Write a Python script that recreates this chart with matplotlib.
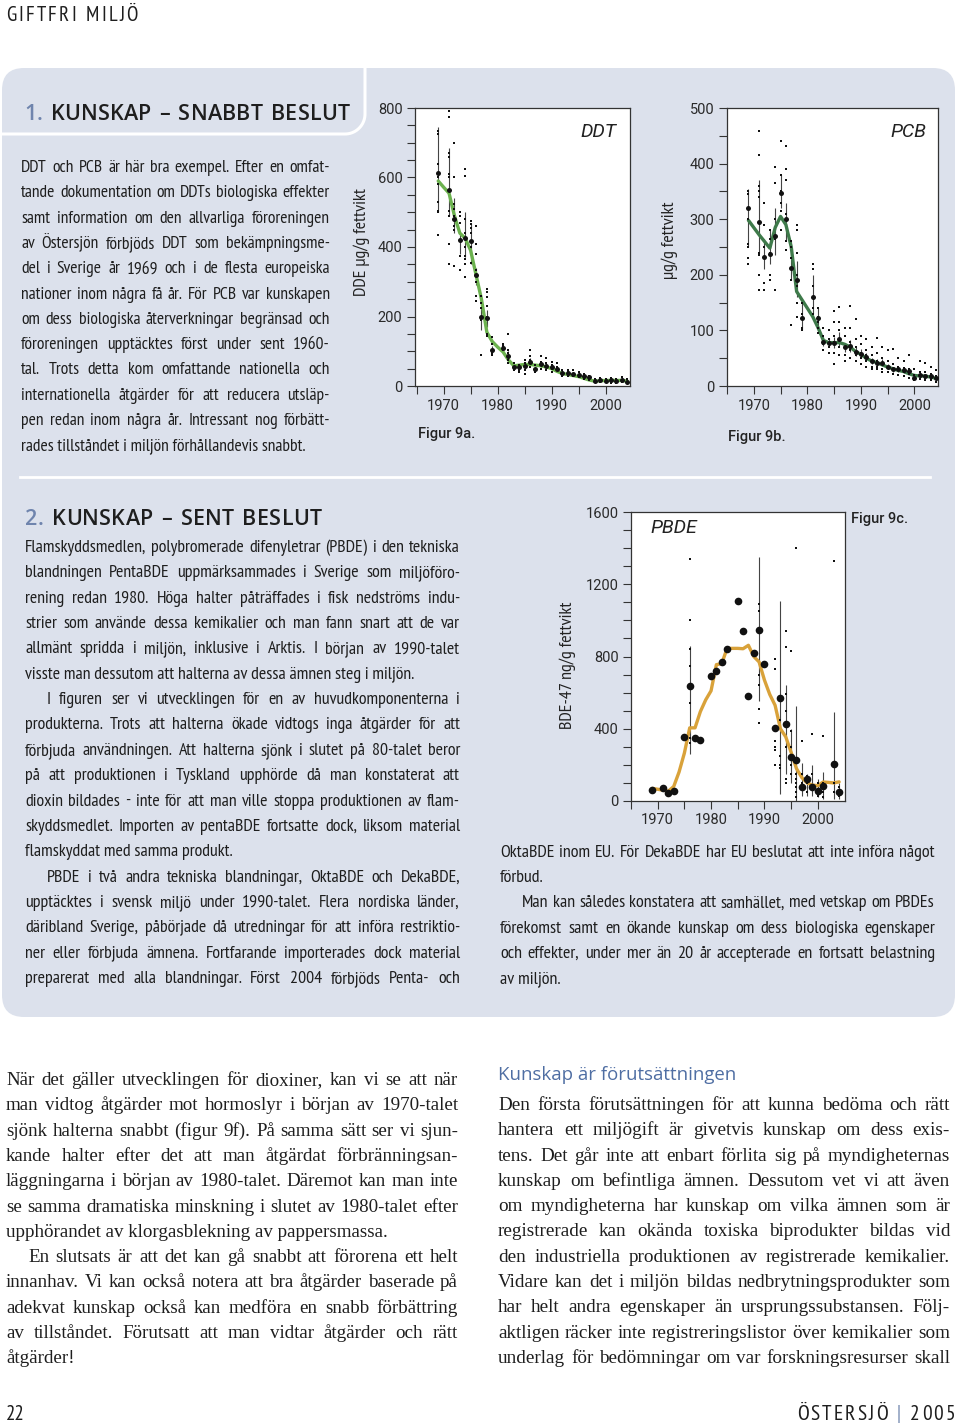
import numpy as np
import matplotlib.pyplot as plt
from matplotlib import font_manager
from matplotlib.font_manager import FontProperties
from matplotlib.patches import FancyBboxPatch
from matplotlib.textpath import TextPath

# ---------------- data ----------------
ddt_years = [1969, 1971, 1972, 1973, 1974, 1975, 1976, 1977, 1978, 1979, 1981, 1982,
             1983, 1984, 1985, 1986, 1987, 1988, 1989, 1990, 1991, 1992, 1993, 1994,
             1995, 1996, 1997, 1998, 1999, 2000, 2001, 2002, 2003, 2004]
ddt_mean = [612, 565, 480, 420, 425, 418, 320, 198, 195, 105, 110, 85,
            55, 55, 58, 70, 48, 62, 58, 55, 50, 38, 38, 35,
            32, 28, 25, 15, 17, 15, 16, 14, 18, 12]
ddt_lo = [500, 490, 440, 380, 370, 350, 290, 160, 170, 95, 100, 70,
          48, 48, 50, 60, 42, 55, 50, 48, 44, 33, 33, 30,
          27, 24, 21, 12, 14, 12, 13, 11, 15, 9]
ddt_hi = [745, 685, 540, 440, 500, 470, 340, 230, 220, 115, 120, 100,
          62, 62, 66, 80, 55, 70, 66, 62, 56, 43, 43, 40,
          37, 32, 29, 18, 20, 18, 19, 17, 21, 15]
ddt_dot_years = [1969, 1971, 1972, 1973, 1974, 1975, 1976, 1977, 1978, 1979, 1981, 1982,
                 1983, 1984, 1985, 1986, 1987, 1988, 1989, 1990, 1991, 1992, 1993, 1994,
                 1995, 1996, 1997, 1998, 1999, 2000, 2001, 2002, 2003, 2004]
ddt_dot_values = [
    [735, 725, 640, 600, 580, 530, 505, 500, 435],
    [790, 775, 670, 660, 610, 600, 505, 490, 410, 350],
    [700, 600, 525, 510, 490, 460, 450, 345],
    [500, 490, 470, 375, 335],
    [625, 605, 480, 440, 400, 375, 365, 350, 315],
    [475, 465, 455, 440, 400, 355],
    [460, 410, 380, 335, 320, 300, 260, 245],
    [260, 240, 225, 190, 90],
    [280, 270, 255, 230, 200, 150, 145],
    [140, 120, 100, 95, 90],
    [120, 115, 105],
    [150, 105, 95, 75, 65],
    [65, 55, 45], [60, 50, 45, 40], [75, 65, 55, 45, 35], [105, 85, 75, 55],
    [60, 50, 40], [85, 70, 60, 50], [80, 65, 55, 45], [70, 60, 50, 40],
    [65, 55, 45], [45, 35, 30], [45, 40, 30], [45, 35, 28],
    [40, 30, 25], [35, 28, 20], [30, 22, 18], [20, 15, 12],
    [22, 18, 12], [20, 15, 12], [22, 16, 10], [20, 14, 10],
    [25, 18, 12], [20, 12, 8]]
ddt_trend_years = list(range(1969, 2005))
ddt_trend = [590, 572, 555, 490, 440, 425, 390, 320, 250, 155, 128, 112, 98, 75, 58,
             60, 62, 62, 60, 58, 55, 50, 42, 36, 33, 30, 27, 22, 17, 14, 15, 16, 16,
             16, 16, 14]

pcb_years = ddt_years
pcb_mean = [320, 295, 232, 238, 270, 348, 300, 212, 190, 123, 160, 122,
            80, 78, 78, 85, 70, 72, 62, 58, 52, 45, 42, 42,
            35, 30, 30, 28, 27, 15, 20, 18, 18, 15]
pcb_lo = [250, 240, 210, 220, 235, 320, 260, 190, 160, 100, 130, 100,
          72, 70, 68, 72, 62, 62, 54, 50, 45, 39, 36, 36,
          30, 25, 25, 24, 22, 11, 16, 14, 14, 11]
pcb_hi = [355, 370, 265, 280, 320, 380, 330, 260, 225, 150, 200, 140,
          88, 86, 88, 98, 78, 82, 70, 66, 59, 51, 48, 48,
          40, 35, 35, 32, 32, 19, 24, 22, 22, 19]
pcb_dot_years = ddt_dot_years
pcb_dot_values = [
    [350, 345, 320, 300, 255, 250, 230, 220],
    [458, 415, 360, 350, 340, 295, 240, 235, 200, 172],
    [330, 290, 250, 230, 185, 172],
    [280, 265, 240, 200, 190],
    [393, 365, 300, 265, 172],
    [440, 380, 350, 345, 330, 315, 280],
    [432, 390, 370, 310, 300, 260, 245],
    [260, 250, 230, 210, 190, 110],
    [290, 280, 240, 200, 180, 150, 125],
    [150, 130, 120, 105, 100],
    [220, 210, 180, 160, 140, 130],
    [140, 125, 115, 105, 95],
    [105, 90, 80, 75, 65], [100, 85, 75, 70, 60], [135, 115, 90, 80, 60, 40],
    [142, 115, 100, 85, 70, 55], [105, 90, 70, 55, 45], [143, 105, 80, 65, 50],
    [120, 85, 70, 55, 45], [90, 75, 60, 50, 40], [85, 65, 55, 45, 35],
    [70, 55, 45, 35, 30], [87, 60, 45, 35, 30], [70, 50, 40, 30, 25],
    [65, 45, 35, 25], [67, 40, 30, 22], [50, 35, 28, 20], [45, 32, 25, 18],
    [55, 30, 22, 15], [30, 20, 12, 10], [45, 25, 18, 12], [42, 25, 15, 10],
    [35, 22, 15, 10], [28, 18, 12, 8]]
pcb_trend_years = list(range(1969, 2005))
pcb_trend = [298, 285, 272, 260, 248, 285, 305, 290, 250, 170, 155, 140, 125, 105, 82,
             78, 78, 78, 75, 70, 62, 57, 50, 45, 42, 38, 34, 31, 28, 26, 22, 19, 18,
             18, 16, 14]

pbde_years = [1969, 1971, 1972, 1973, 1975, 1976, 1977, 1978, 1980, 1981, 1982, 1983,
              1985, 1986, 1987, 1988, 1989, 1990, 1992, 1993, 1994, 1995, 1996, 1997,
              1998, 1999, 2000, 2001, 2003, 2004]
pbde_mean = [61, 74, 42, 55, 353, 634, 347, 338, 693, 722, 769, 841,
             1105, 942, 584, 822, 948, 759, 403, 568, 427, 242, 227, 79,
             122, 79, 55, 85, 203, 52]
pbde_bar_years = [1976, 1989, 1993, 1994, 1995, 1996, 1997, 1998, 1999, 2000, 2001, 2003, 2004]
pbde_lo = [260, 555, 40, 150, 100, 0, 30, 30, 30, 20, 10, 10, 10]
pbde_hi = [860, 1350, 1105, 640, 400, 525, 210, 150, 200, 120, 160, 490, 100]
pbde_dot_years = [1976, 1989, 1992, 1993, 1994, 1995, 1996, 1997, 1998, 1999, 2000, 2001, 2003, 2004]
pbde_dot_values = [
    [1340, 1000, 840, 750, 540, 350, 320],
    [1090, 1050, 700, 640, 510, 430],
    [785, 730, 330, 300, 280, 200],
    [450, 250, 200, 180],
    [940, 850, 590, 500, 300, 120, 100],
    [830, 390, 300, 200, 150],
    [1400, 150, 120, 100, 80, 50, 20],
    [330, 150, 100, 80],
    [140, 100, 50],
    [370, 150, 60],
    [100, 50, 30],
    [360, 100, 50, 20],
    [1330, 100, 50],
    [80, 30]]
pbde_trend_years = list(range(1969, 2005))
pbde_trend = [70, 65, 60, 55, 80, 160, 265, 405, 405, 495, 560, 610, 755, 760, 845,
              845, 845, 843, 862, 800, 770, 670, 590, 530, 400, 355, 270, 180, 130,
              100, 88, 85, 105, 103, 100, 106]

# ---------------- texts ----------------
sec1_lines = [
    "DDT och PCB är här bra exempel. Efter en omfat-",
    "tande dokumentation om DDTs biologiska effekter",
    "samt information om den allvarliga föroreningen",
    "av Östersjön förbjöds DDT som bekämpningsme-",
    "del i Sverige år 1969 och i de flesta europeiska",
    "nationer inom några få år. För PCB var kunskapen",
    "om dess biologiska återverkningar begränsad och",
    "föroreningen upptäcktes först under sent 1960-",
    "tal. Trots detta kom omfattande nationella och",
    "internationella åtgärder för att reducera utsläp-",
    "pen redan inom några år. Intressant nog förbätt-",
    "rades tillståndet i miljön förhållandevis snabbt.",
]
sec2_left = [
    "Flamskyddsmedlen, polybromerade difenyletrar (PBDE) i den tekniska",
    "blandningen PentaBDE uppmärksammades i Sverige som miljöföro-",
    "rening redan 1980. Höga halter påträffades i fisk nedströms indu-",
    "strier som använde dessa kemikalier och man fann snart att de var",
    "allmänt spridda i miljön, inklusive i Arktis. I början av 1990-talet",
    "visste man dessutom att halterna av dessa ämnen steg i miljön.",
    "I figuren ser vi utvecklingen för en av huvudkomponenterna i",
    "produkterna. Trots att halterna ökade vidtogs inga åtgärder för att",
    "förbjuda användningen. Att halterna sjönk i slutet på 80-talet beror",
    "på att produktionen i Tyskland upphörde då man konstaterat att",
    "dioxin bildades - inte för att man ville stoppa produktionen av flam-",
    "skyddsmedlet. Importen av pentaBDE fortsatte dock, liksom material",
    "flamskyddat med samma produkt.",
    "PBDE i två andra tekniska blandningar, OktaBDE och DekaBDE,",
    "upptäcktes i svensk miljö under 1990-talet. Flera nordiska länder,",
    "däribland Sverige, påbörjade då utredningar för att införa restriktio-",
    "ner eller förbjuda ämnena. Fortfarande importerades dock material",
    "preparerat med alla blandningar. Först 2004 förbjöds Penta- och",
]
sec2_right = [
    "OktaBDE inom EU. För DekaBDE har EU beslutat att inte införa något",
    "förbud.",
    "Man kan således konstatera att samhället, med vetskap om PBDEs",
    "förekomst samt en ökande kunskap om dess biologiska egenskaper",
    "och effekter, under mer än 20 år accepterade en fortsatt belastning",
    "av miljön.",
]
serif_left = [
    "När det gäller utvecklingen för dioxiner, kan vi se att när",
    "man vidtog åtgärder mot hormoslyr i början av 1970-talet",
    "sjönk halterna snabbt (figur 9f). På samma sätt ser vi sjun-",
    "kande halter efter det att man åtgärdat förbränningsan-",
    "läggningarna i början av 1980-talet. Däremot kan man inte",
    "se samma dramatiska minskning i slutet av 1980-talet efter",
    "upphörandet av klorgasblekning av pappersmassa.",
    "En slutsats är att det kan gå snabbt att förorena ett helt",
    "innanhav. Vi kan också notera att bra åtgärder baserade på",
    "adekvat kunskap också kan medföra en snabb förbättring",
    "av tillståndet. Förutsatt att man vidtar åtgärder och rätt",
    "åtgärder!",
]
serif_right = [
    "Den första förutsättningen för att kunna bedöma och rätt",
    "hantera ett miljögift är givetvis kunskap om dess exis-",
    "tens. Det går inte att enbart förlita sig på myndigheternas",
    "kunskap om befintliga ämnen. Dessutom vet vi att även",
    "om myndigheterna har kunskap om vilka ämnen som är",
    "registrerade kan okända toxiska biprodukter bildas vid",
    "den industriella produktionen av registrerade kemikalier.",
    "Vidare kan det i miljön bildas nedbrytningsprodukter som",
    "har helt andra egenskaper än ursprungssubstansen. Följ-",
    "aktligen räcker inte registreringslistor över kemikalier som",
    "underlag för bedömningar om var forskningsresurser skall",
]

# ---------------- fonts / colours ----------------
names = {f.name for f in font_manager.fontManager.ttflist}


def pick(*cands):
    for c in cands:
        if c in names:
            return c
    return 'DejaVu Sans'


def narrowest_sans():
    # the body text is a condensed face: pick the installed sans with the
    # smallest word width per cap height
    cands = [FontProperties(family=n) for n in
             ['Roboto', 'Open Sans', 'Lato', 'Noto Sans', 'Inter', 'Liberation Sans']
             if n in names]
    for f in font_manager.fontManager.ttflist:
        n = (f.name + ' ' + f.fname).lower()
        if ('narrow' in n or 'condensed' in n) and 'sans' in n and f.style == 'normal' \
                and f.weight in (400, 'normal', 'regular') and 'mono' not in n \
                and not any(k in n for k in ('bold', 'light', 'thin', 'black', 'medium',
                                             'extra', 'ultra', 'semi')):
            cands.append(FontProperties(fname=f.fname))
    sample = 'Flamskyddsmedlen,polybromeradedifenyletrar(PBDE)identekniska'
    best, score = FontProperties(family='DejaVu Sans'), 1e9
    for fp in cands:
        try:
            w = TextPath((0, 0), sample, size=100, prop=fp).get_extents().width
            h = TextPath((0, 0), 'H', size=100, prop=fp).get_extents().height
        except Exception:
            continue
        if w / h < score:
            best, score = fp, w / h
    return best


BODY = dict(fontproperties=narrowest_sans())
SANS = pick('Roboto', 'Open Sans', 'Noto Sans')
HEAD = pick('Open Sans', 'Lato', 'Noto Sans')
SERIF = dict(family=pick('Liberation Serif', 'DejaVu Serif'))
PANEL = '#dce1ec'
INK = '#1e1e1e'
BLUE = '#6f84ad'

W, H = 960, 1425
fig = plt.figure(figsize=(W / 100, H / 100), dpi=100)
bg = fig.add_axes([0, 0, 1, 1])
bg.set_xlim(0, W)
bg.set_ylim(H, 0)
bg.axis('off')
renderer = fig.canvas.get_renderer()


def width(s, **kw):
    t = bg.text(0, 0, s, **kw)
    w = t.get_window_extent(renderer).width
    t.remove()
    return w


def justify(x0, x1, y, s, **kw):
    words = s.split()
    ws = [width(w, **kw) for w in words]
    gap = (x1 - x0 - sum(ws)) / max(len(words) - 1, 1)
    x = x0
    for w, wd in zip(words, ws):
        bg.text(x, y, w, va='baseline', **kw)
        x += wd + gap


def natural(line, size, kw, space=0.25):
    # words at their own widths plus a normal word space (in em)
    words = line.split()
    return (sum(width(w, size=size, **kw) for w in words)
            + (len(words) - 1) * space * size * 100 / 72)


def block(lines, x0, x1, y0, dy, size, font, last=(), indent=(), ind=22, color=INK,
          space=0.25):
    kw = dict(font, color=color)
    need = max(natural(l, size, kw, space) + (ind if i in indent else 0)
               for i, l in enumerate(lines) if i not in last)
    if need > (x1 - x0):
        size *= (x1 - x0) / need
    for i, l in enumerate(lines):
        xs = x0 + (ind if i in indent else 0)
        y = y0 + i * dy
        if i in last:
            bg.text(xs, y, l, size=size, va='baseline', **kw)
        else:
            justify(xs, x1, y, l, size=size, **kw)


def tracked(x0, x1, y, parts, **kw):
    chars = [(ch, c) for s, c in parts for ch in s]
    ws = [width(ch, **kw) if ch != ' ' else width('n', **kw) * 0.55 for ch, _ in chars]
    gap = (x1 - x0 - sum(ws)) / (len(chars) - 1)
    x = x0
    for (ch, c), wd in zip(chars, ws):
        if ch != ' ':
            bg.text(x, y, ch, va='baseline', color=c, **kw)
        x += wd + gap


# ---------------- page background ----------------
bg.add_patch(FancyBboxPatch((2, 68), 953, 949, boxstyle='round,pad=0,rounding_size=22',
                            fc=PANEL, ec='none', zorder=0))
arc = np.linspace(0, np.pi / 2, 20)
tab_x = np.concatenate([[0], 345 + 20 * np.sin(arc), [365]])
tab_y = np.concatenate([[134], 114 + 20 * np.cos(arc), [66]])
bg.plot(tab_x, tab_y, color='white', lw=2.2, zorder=1)
bg.plot([20, 930], [477, 477], color='white', lw=2, zorder=1)

# header / footer
tracked(6, 138, 21, [('GIFTFRI MILJÖ', INK)], size=15, **BODY)
bg.text(6, 1420, '22', size=15, color=INK, va='baseline', **BODY)
tracked(797, 955, 1420, [('ÖSTERSJÖ ', INK), ('|', BLUE), (' 2005', INK)],
        size=15.5, **BODY)

# section headings
tracked(24, 350, 120, [('1.', BLUE), (' KUNSKAP – SNABBT BESLUT', INK)],
        size=15.5, family=HEAD, weight='semibold')
tracked(25, 322, 525, [('2.', BLUE), (' KUNSKAP – SENT BESLUT', INK)],
        size=15.5, family=HEAD, weight='semibold')
bg.text(498, 1080, 'Kunskap är förutsättningen', size=13.4, family=HEAD,
        color='#4f6ea3', va='baseline')

# body text
block(sec1_lines, 21, 330, 172, 25.3, 17, BODY, last=(11,))
block(sec2_left, 25, 460, 552, 25.35, 17, BODY, last=(5, 12), indent=(6, 13))
block(sec2_right, 500, 935, 857, 25.2, 17, BODY, last=(1, 5), indent=(2,))
block(serif_left, 6, 458, 1085, 25.3, 14, SERIF, last=(6, 11), indent=(7,))
block(serif_right, 498, 950, 1110, 25.3, 14, SERIF)


# ---------------- charts ----------------
def chart(box, xlim, ymax, ymaj, ymin, trend_x, trend_y, tcolor, years, mean, bar_x,
          lo, hi, dot_x, dot_v, big=3.6):
    l, r, t, b = box
    ax = fig.add_axes([l / W, 1 - b / H, (r - l) / W, (b - t) / H])
    ax.set_facecolor('white')
    ax.set_xlim(*xlim)
    ax.set_ylim(0, ymax)
    ax.set_yticks(np.arange(0, ymax + 1, ymaj))
    ax.set_yticks(np.arange(0, ymax + 1, ymin), minor=True)
    ax.set_xticks([1970, 1980, 1990, 2000])
    ax.set_xticks(np.arange(1965, 2005, 5), minor=True)
    ax.tick_params(which='both', direction='out', length=6, width=0.8, color='#333',
                   labelcolor='#2a2a2a', labelsize=10.5, pad=3)
    for lab in ax.get_xticklabels() + ax.get_yticklabels():
        lab.set_family(SANS)
    for s in ax.spines.values():
        s.set_linewidth(0.9)
        s.set_color('#333')
    ax.vlines(bar_x, lo, hi, color='#444', lw=0.8, zorder=2)
    xs = [y for y, vals in zip(dot_x, dot_v) for _ in vals]
    vs = [v for vals in dot_v for v in vals]
    ax.plot(xs, vs, 's', ms=1.6, color='#111', mew=0, zorder=4)
    ax.plot(trend_x, trend_y, color=tcolor, lw=2.4, zorder=3, solid_capstyle='round')
    ax.plot(years, mean, 'o', ms=big, color='#111', mew=0, zorder=5)
    return ax


a = chart((415, 630, 108, 386), (1964.7, 2004.5), 800, 200, 50, ddt_trend_years, ddt_trend,
          '#6cb24f', ddt_years, ddt_mean, ddt_years, ddt_lo, ddt_hi,
          ddt_dot_years, ddt_dot_values)
a.text(0.853, 0.915, 'DDT', transform=a.transAxes, ha='center', va='center',
       size=14, style='italic', family=SANS, color='#222')

b = chart((727, 938, 108, 386), (1965.6, 2004.4), 500, 100, 50, pcb_trend_years, pcb_trend,
          '#3e7a4a', pcb_years, pcb_mean, pcb_years, pcb_lo, pcb_hi,
          pcb_dot_years, pcb_dot_values)
b.text(0.858, 0.915, 'PCB', transform=b.transAxes, ha='center', va='center',
       size=14, style='italic', family=SANS, color='#222')

c = chart((631, 845, 512, 801), (1966.6, 2005.1), 1600, 400, 100, pbde_trend_years,
          pbde_trend, '#d9a23a', pbde_years, pbde_mean, pbde_bar_years, pbde_lo, pbde_hi,
          pbde_dot_years, pbde_dot_values, big=5.5)
c.text(0.09, 0.945, 'PBDE', transform=c.transAxes, ha='left', va='center',
       size=14, style='italic', family=SANS, color='#222')

# axis labels and figure captions
bg.text(362, 242, 'DDE µg/g fettvikt', rotation=90, ha='center', va='center',
        size=13, color='#222', **BODY)
bg.text(670, 240, 'µg/g fettvikt', rotation=90, ha='center', va='center',
        size=13, color='#222', **BODY)
bg.text(568, 665, 'BDE-47 ng/g fettvikt', rotation=90, ha='center', va='center',
        size=13, color='#222', **BODY)
bg.text(418, 434, 'Figur 9a.', ha='left', va='center', size=10.5, family=SANS,
        weight='medium', color='#222')
bg.text(728, 437, 'Figur 9b.', ha='left', va='center', size=10.5, family=SANS,
        weight='medium', color='#222')
bg.text(851, 519, 'Figur 9c.', ha='left', va='center', size=10.5, family=SANS,
        weight='medium', color='#222')

fig.savefig('out.png', dpi=100, facecolor='white')
